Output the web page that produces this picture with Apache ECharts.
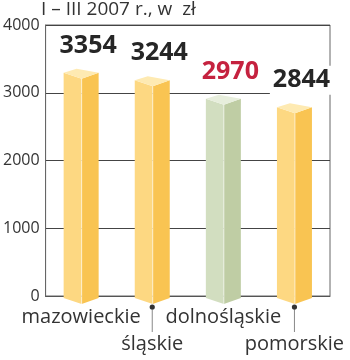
<!DOCTYPE html>
<html>
<head>
<meta charset="utf-8">
<style>html,body{margin:0;padding:0;background:#fff;}#c{width:350px;height:360px;}</style>
<script src="https://cdn.jsdelivr.net/npm/echarts@6/dist/echarts.min.js"></script>
</head>
<body>
<div id="c"></div>
<script>
const categories = ['mazowieckie', 'śląskie', 'dolnośląskie', 'pomorskie'];
const values = [3354, 3244, 2970, 2844];
const yTicks = [0, 1000, 2000, 3000, 4000];
const title = 'I – III 2007 r., w  zł';
const highlight = 'dolnośląskie';

const FONT = '"Open Sans", "DejaVu Sans", sans-serif';
const chart = echarts.init(document.getElementById('c'));

function renderItem(params, api) {
  const idx = api.value(0);
  const val = api.value(1);
  const top = api.coord([idx, val]);
  const base = api.coord([idx, 0]);
  const cx = top[0];
  const hw = 17.5;
  const l = cx - hw, r = cx + hw, m = cx + 0.5;
  const ty = top[1], by = base[1];
  const green = categories[idx] === highlight;
  const cLeft = green ? '#d2dec0' : '#fdd882';
  const cRight = green ? '#bfcda4' : '#f9c452';
  const cTop = green ? '#e7eedc' : '#feeab2';
  const children = [
    { type: 'polygon', shape: { points: [[l, ty + 4], [m, ty + 10], [m, by + 8], [l, by + 2]] }, style: { fill: cLeft } },
    { type: 'polygon', shape: { points: [[m, ty + 10], [r, ty + 4], [r, by + 2], [m, by + 8]] }, style: { fill: cRight } },
    { type: 'polygon', shape: { points: [[l, ty + 4], [l + 13, ty], [r, ty + 4], [m, ty + 10]] }, style: { fill: cTop } },
    { type: 'line', shape: { x1: m, y1: ty + 10, x2: m, y2: by + 8 }, style: { stroke: 'rgba(255,255,255,0.6)', lineWidth: 1 } },
    { type: 'text', style: { text: String(val), x: cx + 7, y: ty - 23, align: 'center', verticalAlign: 'middle',
        font: 'bold 25px ' + FONT, fill: green ? '#c5223f' : '#262626',
        backgroundColor: '#fff', padding: [0, 3, 4, 3] } }
  ];
  if (idx % 2 === 1) {
    children.push({ type: 'line', shape: { x1: cx, y1: by + 11, x2: cx, y2: by + 36 }, style: { stroke: '#888', lineWidth: 1 } });
    children.push({ type: 'circle', shape: { cx: cx, cy: by + 11, r: 2.6 }, style: { fill: '#333' } });
  }
  return { type: 'group', children: children };
}

chart.setOption({
  animation: false,
  backgroundColor: '#fff',
  grid: { left: 41, right: 20, top: 25, bottom: 64, show: true, borderColor: '#666', borderWidth: 1, backgroundColor: 'transparent' },
  graphic: [{ type: 'text', left: 41, top: 0, style: { text: title, font: '19px ' + FONT, fill: '#333' } }],
  xAxis: {
    type: 'category', data: categories,
    axisLine: { lineStyle: { color: '#555' } },
    axisTick: { inside: true, length: 5, lineStyle: { color: '#555' } },
    axisLabel: { margin: 8, fontFamily: FONT, fontSize: 20, color: '#333', lineHeight: 27,
      interval: 0,
      formatter: function (v, i) { return i % 2 === 1 ? '\n' + v : v; } }
  },
  yAxis: {
    type: 'value', min: 0, max: 4000, interval: 1000,
    axisLine: { show: true, lineStyle: { color: '#666' } },
    axisTick: { show: false },
    axisLabel: { margin: 6, fontFamily: FONT, fontSize: 16, color: '#333',
      formatter: function (v) { return yTicks.indexOf(v) >= 0 ? String(v) : ''; } },
    splitLine: { lineStyle: { color: '#444' } }
  },
  series: [{
    type: 'custom', renderItem: renderItem, clip: false,
    data: values.map(function (v, i) { return [i, v]; })
  }]
});
</script>
</body>
</html>
